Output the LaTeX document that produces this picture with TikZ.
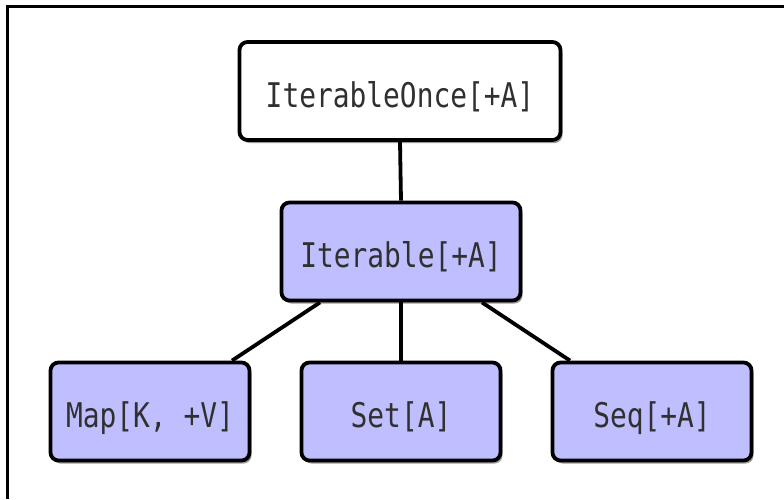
\documentclass[tikz,border=0pt]{standalone}
\usepackage{fontspec}
\setmonofont[FakeStretch=0.82]{DejaVu Sans Mono}
\usetikzlibrary{shadows,calc}
\definecolor{boxblue}{HTML}{BFBFFF}
\definecolor{txt}{HTML}{303030}
\begin{document}
\begin{tikzpicture}[x=1pt,y=-1pt,
  box/.style={draw=black, line width=3.8pt, rounded corners=8pt,
    minimum height=98pt, inner sep=0pt, text height=36pt, text depth=4pt,
    font=\ttfamily\fontsize{34}{34}\selectfont, text=txt,
    drop shadow={shadow xshift=2pt, shadow yshift=-3pt, opacity=0.4, fill=black}},
  conn/.style={line width=3.8pt, black}]
\useasboundingbox (0,0) rectangle (784,499);
\draw[line width=3pt] (7,499) -- (7,6) -- (784,6);
\node[box, fill=white, minimum width=321pt] (once) at (400,91) {IterableOnce[+A]};
\node[box, fill=boxblue, minimum width=239pt] (it) at (401,251.5) {Iterable[+A]};
\node[box, fill=boxblue, minimum width=199pt] (map) at (150,411.5) {Map[K, +V]};
\node[box, fill=boxblue, minimum width=199pt] (set) at (401,411.5) {Set[A]};
\node[box, fill=boxblue, minimum width=199pt] (seq) at (652,411.5) {Seq[+A]};
\draw[conn] (once.south) -- (it.north);
\draw[conn] ($(it.south)+(-81,0)$) -- ($(map.north)+(82,0)$);
\draw[conn] (it.south) -- (set.north);
\draw[conn] ($(it.south)+(81,0)$) -- ($(seq.north)+(-82,0)$);
\end{tikzpicture}
\end{document}
